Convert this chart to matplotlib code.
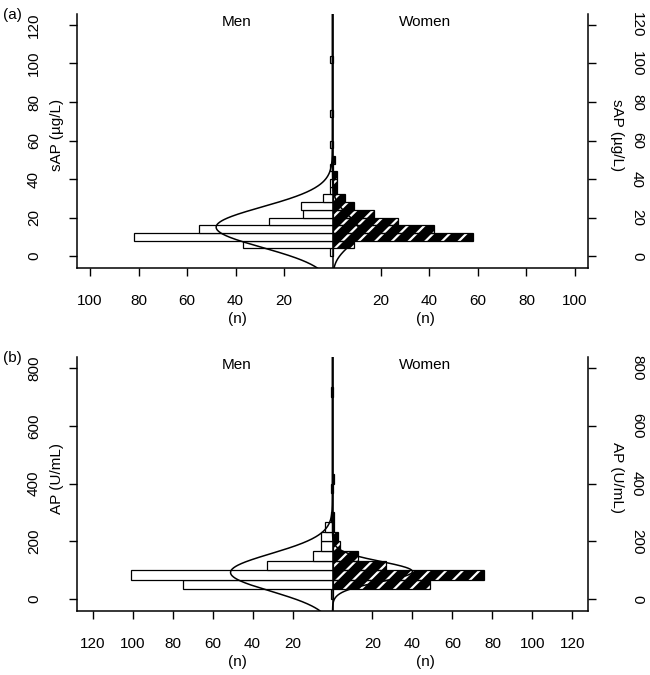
import numpy as np
import matplotlib
matplotlib.use('Agg')
import matplotlib.pyplot as plt
from matplotlib.transforms import blended_transform_factory

plt.rcParams['font.family'] = ['Liberation Sans', 'DejaVu Sans']
plt.rcParams['hatch.linewidth'] = 1.6
plt.rcParams['font.size'] = 11

# ---------------- data ----------------
# panel (a): sAP, bins of width 4 starting at 0
bin_width_a = 4
men_a = [1, 37, 82, 55, 26, 12, 13, 4, 1, 1, 0, 1, 0, 0, 1, 0, 0, 0, 1, 0, 0, 0, 0, 0, 0, 1]
women_a = [0, 9, 58, 42, 27, 17, 9, 5, 2, 2, 2, 0, 1, 0, 0, 0, 0, 0, 0, 0, 0, 0, 0, 0, 0, 0]
# fitted normal curves: (mean, sd, peak height in n)
men_curve_a = (15, 10.5, 48)
women_curve_a = (13, 8, 11)
yticks_a = [0, 20, 40, 60, 80, 100, 120]
xticks_a = [-100, -80, -60, -40, -20, 20, 40, 60, 80, 100]
xticklabels_a = ['100', '80', '60', '40', '20', '20', '40', '60', '80', '100']

# panel (b): AP, bins of width 100/3 starting at 0
bin_width_b = 100 / 3
men_b = [1, 75, 101, 33, 10, 6, 6, 4, 1, 0, 0, 1, 0, 0, 0, 0, 0, 0, 0, 0, 0, 1]
women_b = [0, 49, 76, 27, 13, 4, 3, 1, 1, 0, 0, 0, 1, 0, 0, 0, 0, 0, 0, 0, 0, 0]
men_curve_b = (92, 65, 51)
women_curve_b = (95, 35, 40)
yticks_b = [0, 200, 400, 600, 800]
xticks_b = [-120, -100, -80, -60, -40, -20, 20, 40, 60, 80, 100, 120]
xticklabels_b = ['120', '100', '80', '60', '40', '20', '20', '40', '60', '80', '100', '120']

W, H = 650, 675
fig = plt.figure(figsize=(W / 100, H / 100), dpi=100)


def fx(px):
    return px / W


def fy(py):
    return 1 - py / H


def panel(top_px, men, women, bw, men_curve, women_curve, yticks, xticks, xticklabels,
          xlim, ylim, ylabel, tag):
    ax = fig.add_axes([fx(77), fy(top_px + 254), fx(511), 254 / H])
    ax.set_xlim(*xlim)
    ax.set_ylim(*ylim)
    men = np.asarray(men, float)
    women = np.asarray(women, float)
    starts = np.arange(len(men)) * bw
    m = men > 0
    ax.barh(starts[m], -men[m], height=bw, align='edge', color='white',
            edgecolor='black', linewidth=0.9, zorder=2)
    w = women > 0
    ax.barh(starts[w], women[w], height=bw, align='edge', facecolor='black',
            edgecolor='white', hatch='//', linewidth=0, zorder=2)
    ax.barh(starts[w], women[w], height=bw, align='edge', fill=False,
            edgecolor='black', linewidth=0.9, zorder=3)
    yy = np.linspace(ylim[0], ylim[1], 600)
    mu, sd, pk = men_curve
    ax.plot(-pk * np.exp(-0.5 * ((yy - mu) / sd) ** 2), yy, color='black', lw=1.1, zorder=4)
    mu, sd, pk = women_curve
    ax.plot(pk * np.exp(-0.5 * ((yy - mu) / sd) ** 2), yy, color='black', lw=1.1, zorder=4)
    ax.axvline(0, color='black', lw=1.1, zorder=5)

    ax.spines['top'].set_visible(False)
    for s in ['left', 'right', 'bottom']:
        ax.spines[s].set_linewidth(1.1)
    ax.set_yticks(yticks)
    ax.set_yticklabels([])
    ax.tick_params(axis='y', which='both', left=True, right=True, direction='out',
                   length=5.5, width=1.0)
    ax.set_xticks(xticks)
    ax.set_xticklabels(xticklabels)
    ax.tick_params(axis='x', direction='out', length=5.5, width=1.0, pad=13, labelsize=11)

    trL = blended_transform_factory(fig.transFigure, ax.transData)
    for v in yticks:
        fig.text(fx(34), v, str(v), transform=trL, rotation=90, ha='center',
                 va='center', fontsize=11)
        fig.text(fx(637), v, str(v), transform=trL, rotation=-90, ha='center',
                 va='center', fontsize=11)
    fig.text(fx(57), fy(top_px + 121), ylabel, rotation=90, ha='center', va='center', fontsize=11)
    fig.text(fx(617), fy(top_px + 121), ylabel, rotation=-90, ha='center', va='center', fontsize=11)
    fig.text(fx(12), fy(top_px + 1), tag, ha='center', va='center', fontsize=11)
    fig.text(fx(237), fy(top_px + 8), 'Men', ha='center', va='center', fontsize=11)
    fig.text(fx(425), fy(top_px + 8), 'Women', ha='center', va='center', fontsize=11)
    fig.text(fx(237), fy(top_px + 305), '(n)', ha='center', va='center', fontsize=11)
    fig.text(fx(425), fy(top_px + 305), '(n)', ha='center', va='center', fontsize=11)
    return ax


panel(14, men_a, women_a, bin_width_a, men_curve_a, women_curve_a, yticks_a, xticks_a,
      xticklabels_a, (-105.4, 105.4), (-6.2, 125.7), 'sAP (µg/L)', '(a)')
panel(357, men_b, women_b, bin_width_b, men_curve_b, women_curve_b, yticks_b, xticks_b,
      xticklabels_b, (-127.8, 127.8), (-41.6, 838.8), 'AP (U/mL)', '(b)')

fig.savefig('out.png', dpi=100)
